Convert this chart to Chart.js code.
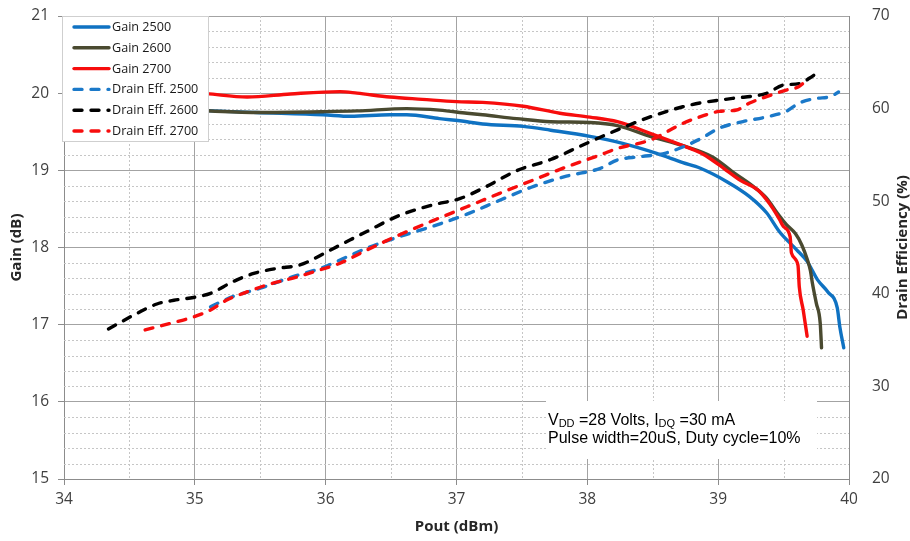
<!DOCTYPE html>
<html><head><meta charset="utf-8">
<script src="https://cdn.jsdelivr.net/npm/chart.js@4.4.1/dist/chart.umd.min.js"></script>
<style>html,body{margin:0;padding:0;background:#fff;}#wrap{width:910px;height:541px;}</style>
</head><body><div id="wrap"><canvas id="c" width="910" height="541"></canvas></div>
<script>
// ---- Data ----
const xTicks = [34, 35, 36, 37, 38, 39, 40];
const gainTicks = [15, 16, 17, 18, 19, 20, 21];
const effTicks = [20, 30, 40, 50, 60, 70];
const seriesLabels = ['Gain 2500', 'Gain 2600', 'Gain 2700', 'Drain Eff. 2500', 'Drain Eff. 2600', 'Drain Eff. 2700'];

const gain2500Pout = [34.9, 35.0, 35.47, 35.98, 36.19, 36.49, 36.62, 36.87, 37.08, 37.20, 37.51, 37.72, 38.02, 38.27, 38.53, 38.73, 38.86, 39.07, 39.24, 39.37, 39.47, 39.60, 39.68, 39.76, 39.84, 39.91, 39.93, 39.96];
const gain2500 = [19.79, 19.78, 19.75, 19.72, 19.70, 19.72, 19.72, 19.67, 19.63, 19.60, 19.57, 19.52, 19.44, 19.35, 19.22, 19.10, 19.03, 18.85, 18.66, 18.45, 18.20, 17.97, 17.82, 17.58, 17.42, 17.22, 16.97, 16.70];

const gain2600Pout = [34.9, 35.0, 35.47, 35.98, 36.24, 36.62, 36.87, 37.08, 37.20, 37.46, 37.72, 38.02, 38.23, 38.48, 38.73, 38.96, 39.11, 39.27, 39.37, 39.45, 39.52, 39.59, 39.64, 39.68, 39.705, 39.72, 39.75, 39.78, 39.79];
const gain2600 = [19.79, 19.78, 19.75, 19.76, 19.77, 19.80, 19.78, 19.74, 19.72, 19.67, 19.63, 19.62, 19.58, 19.44, 19.32, 19.17, 18.98, 18.79, 18.64, 18.45, 18.30, 18.18, 18.03, 17.85, 17.70, 17.54, 17.28, 17.02, 16.70];

const gain2700Pout = [34.9, 35.0, 35.40, 35.73, 36.11, 36.24, 36.49, 36.74, 37.00, 37.20, 37.51, 37.79, 38.02, 38.23, 38.48, 38.73, 38.86, 38.94, 39.04, 39.17, 39.30, 39.37, 39.42, 39.47, 39.50, 39.55, 39.56, 39.61, 39.62, 39.65, 39.68];
const gain2700 = [20.0, 20.0, 19.95, 19.99, 20.02, 20.0, 19.95, 19.92, 19.89, 19.88, 19.83, 19.74, 19.69, 19.63, 19.48, 19.32, 19.23, 19.15, 19.03, 18.87, 18.75, 18.62, 18.50, 18.36, 18.27, 18.14, 17.93, 17.77, 17.49, 17.19, 16.85];

const eff2500Pout = [35.12, 35.29, 35.50, 35.75, 35.96, 36.11, 36.31, 36.57, 36.82, 37.08, 37.33, 37.59, 37.84, 38.10, 38.23, 38.40, 38.60, 38.86, 39.01, 39.19, 39.37, 39.52, 39.62, 39.75, 39.86, 39.92];
const eff2500 = [38.6, 39.7, 40.6, 41.85, 42.75, 43.65, 44.9, 46.2, 47.3, 48.6, 50.1, 51.6, 52.7, 53.55, 54.45, 54.8, 55.2, 56.7, 57.9, 58.6, 59.1, 59.7, 60.6, 61.1, 61.3, 61.8];

const eff2600Pout = [34.34, 34.56, 34.71, 34.84, 34.99, 35.12, 35.29, 35.45, 35.63, 35.80, 36.06, 36.31, 36.57, 36.82, 37.03, 37.23, 37.46, 37.72, 37.97, 38.23, 38.48, 38.73, 38.86, 39.11, 39.37, 39.50, 39.62, 39.70, 39.78];
const eff2600 = [36.2, 37.9, 38.9, 39.3, 39.6, 40.05, 41.3, 42.2, 42.75, 43.1, 44.9, 46.7, 48.5, 49.6, 50.3, 51.6, 53.3, 54.5, 56.1, 57.7, 59.1, 60.2, 60.6, 61.1, 61.65, 62.55, 62.7, 63.3, 64.1];

const eff2700Pout = [34.62, 34.81, 34.99, 35.12, 35.24, 35.37, 35.55, 35.75, 35.96, 36.11, 36.31, 36.57, 36.82, 37.08, 37.33, 37.59, 37.84, 38.10, 38.23, 38.48, 38.73, 38.86, 39.01, 39.14, 39.24, 39.37, 39.52, 39.62, 39.69];
const eff2700 = [36.1, 36.8, 37.5, 38.25, 39.3, 40.05, 40.95, 41.7, 42.6, 43.3, 44.7, 46.4, 47.9, 49.4, 50.85, 52.3, 53.7, 55.0, 55.7, 56.6, 58.4, 59.1, 59.7, 59.85, 60.6, 61.3, 62.0, 62.4, 63.3];

// ---- helpers ----
const pts = (xs, ys) => xs.map((x, i) => ({x: x, y: ys[i]}));
const FONT = "'Open Sans', 'DejaVu Sans', sans-serif";
const TICK_COLOR = '#404040';
const TITLE_COLOR = '#262626';
const DASH = [8, 9];

function lineDs(label, xs, ys, color, axis, dashed, order) {
  return {
    label: label, data: pts(xs, ys), yAxisID: axis,
    borderColor: color, backgroundColor: color, borderWidth: 3.4,
    borderDash: dashed ? DASH : [], borderCapStyle: 'round', borderJoinStyle: 'round',
    pointRadius: 0, pointHoverRadius: 0, fill: false,
    cubicInterpolationMode: 'monotone', order: order
  };
}

const datasets = [
  lineDs(seriesLabels[0], gain2500Pout, gain2500, '#0f72c2', 'y', false, 6),
  lineDs(seriesLabels[1], gain2600Pout, gain2600, '#4a4a30', 'y', false, 5),
  lineDs(seriesLabels[2], gain2700Pout, gain2700, '#f70d0d', 'y', false, 4),
  lineDs(seriesLabels[3], eff2500Pout, eff2500, '#1b79c9', 'y1', true, 3),
  lineDs(seriesLabels[4], eff2600Pout, eff2600, '#000000', 'y1', true, 2),
  lineDs(seriesLabels[5], eff2700Pout, eff2700, '#f70d0d', 'y1', true, 1)
];

// minor dashed grid (from the library's scales)
const minorGrid = {
  id: 'minorGrid',
  beforeDatasetsDraw(chart) {
    const {ctx, chartArea: ca, scales} = chart;
    ctx.save();
    ctx.strokeStyle = '#c6c6c6';
    ctx.lineWidth = 1;
    ctx.setLineDash([2, 2]);
    for (let i = 0; i < xTicks.length - 1; i++) {
      const px = Math.round(scales.x.getPixelForValue(xTicks[i] + 0.5)) + 0.5;
      ctx.beginPath(); ctx.moveTo(px, ca.top); ctx.lineTo(px, ca.bottom); ctx.stroke();
    }
    for (let i = 0; i < gainTicks.length - 1; i++) {
      for (let k = 1; k < 5; k++) {
        const py = Math.round(scales.y.getPixelForValue(gainTicks[i] + k * 0.2)) + 0.5;
        ctx.beginPath(); ctx.moveTo(ca.left, py); ctx.lineTo(ca.right, py); ctx.stroke();
      }
    }
    ctx.restore();
  }
};

// boxed legend inside the plot + annotation + right axis title
const overlay = {
  id: 'overlay',
  afterDatasetsDraw(chart) {
    const {ctx, chartArea: ca} = chart;
    ctx.save();
    // legend box
    const lx = ca.left - 2, ly = ca.top, lw = 147, lh = 126;
    ctx.fillStyle = '#fff';
    ctx.fillRect(lx, ly, lw, lh);
    ctx.strokeStyle = '#cfcfcf'; ctx.lineWidth = 1;
    ctx.strokeRect(lx + 0.5, ly + 0.5, lw - 1, lh - 1);
    const rowH = 20.8;
    ctx.font = '12.6px ' + FONT;
    ctx.textBaseline = 'middle'; ctx.textAlign = 'left';
    chart.data.datasets.forEach((ds, i) => {
      const y = ly + 11 + i * rowH;
      ctx.strokeStyle = ds.borderColor; ctx.lineWidth = 3.4; ctx.lineCap = 'round';
      ctx.setLineDash(ds.borderDash || []);
      ctx.beginPath(); ctx.moveTo(lx + 12, y); ctx.lineTo(lx + 47, y); ctx.stroke();
      ctx.setLineDash([]);
      ctx.fillStyle = '#1a1a1a';
      ctx.fillText(ds.label, lx + 50, y + 0.5);
    });
    // annotation box
    const ax = ca.left + 482, ay = ca.top + 385;
    ctx.fillStyle = '#fff';
    ctx.fillRect(ax, ay, 271, 58);
    ctx.fillStyle = '#000';
    ctx.textBaseline = 'alphabetic';
    const big = '16px "Liberation Sans", Arial, sans-serif';
    const small = '11px "Liberation Sans", Arial, sans-serif';
    let x = ax + 2, y1 = ay + 24;
    const seg = (t, f, dy) => { ctx.font = f; ctx.fillText(t, x, y1 + dy); x += ctx.measureText(t).width; };
    seg('V', big, 0); seg('DD', small, 2); seg(' =28 Volts, I', big, 0); seg('DQ', small, 2); seg(' =30 mA', big, 0);
    ctx.font = big;
    ctx.fillText('Pulse width=20uS, Duty cycle=10%', ax + 2, ay + 42);
    ctx.restore();
  },
  afterDraw(chart) {
    const {ctx, chartArea: ca} = chart;
    ctx.save();
    ctx.translate(903, (ca.top + ca.bottom) / 2);
    ctx.rotate(-Math.PI / 2);
    ctx.font = 'bold 15px ' + FONT;
    ctx.fillStyle = TITLE_COLOR;
    ctx.textAlign = 'center'; ctx.textBaseline = 'middle';
    ctx.fillText('Drain Efficiency (%)', 0, 0);
    ctx.restore();
  }
};

new Chart(document.getElementById('c'), {
  type: 'line',
  data: {datasets: datasets},
  options: {
    responsive: false, animation: false, devicePixelRatio: 1,
    layout: {padding: {top: 16, left: 0, right: 0, bottom: 0}},
    plugins: {legend: {display: false}, tooltip: {enabled: false}},
    elements: {line: {tension: 0.4}},
    scales: {
      x: {
        type: 'linear', position: 'bottom', min: 34, max: 40,
        afterBuildTicks: s => { s.ticks = xTicks.map(v => ({value: v})); },
        afterFit: s => { s.height = 62; },
        ticks: {font: {family: FONT, size: 15.5}, color: TICK_COLOR, padding: 5, maxRotation: 0, autoSkip: false},
        grid: {color: '#a3a3a3', lineWidth: 1, tickLength: 6, tickColor: '#8c8c8c'},
        border: {color: '#8c8c8c', width: 1},
        title: {display: true, text: 'Pout (dBm)', font: {family: FONT, size: 15, weight: 'bold'}, color: TITLE_COLOR, padding: {top: 0, bottom: 5}}
      },
      y: {
        type: 'linear', position: 'left', min: 15, max: 21,
        afterBuildTicks: s => { s.ticks = gainTicks.map(v => ({value: v})); },
        afterFit: s => { s.width = 64; s.paddingTop = 0; s.paddingBottom = 0; },
        ticks: {font: {family: FONT, size: 15.5}, color: TICK_COLOR, padding: 9},
        grid: {color: '#a3a3a3', lineWidth: 1, tickLength: 6, tickColor: '#8c8c8c'},
        border: {color: '#8c8c8c', width: 1},
        title: {display: true, text: 'Gain (dB)', font: {family: FONT, size: 15, weight: 'bold'}, color: TITLE_COLOR, padding: {top: 8, bottom: 0}}
      },
      y1: {
        type: 'linear', position: 'right', min: 20, max: 70,
        afterBuildTicks: s => { s.ticks = effTicks.map(v => ({value: v})); },
        afterFit: s => { s.width = 61; s.paddingTop = 0; s.paddingBottom = 0; },
        ticks: {font: {family: FONT, size: 15.5}, color: TICK_COLOR, padding: 23},
        grid: {drawOnChartArea: false, drawTicks: false},
        border: {color: '#8c8c8c', width: 1}
      }
    }
  },
  plugins: [minorGrid, overlay]
});
</script>
</body></html>
